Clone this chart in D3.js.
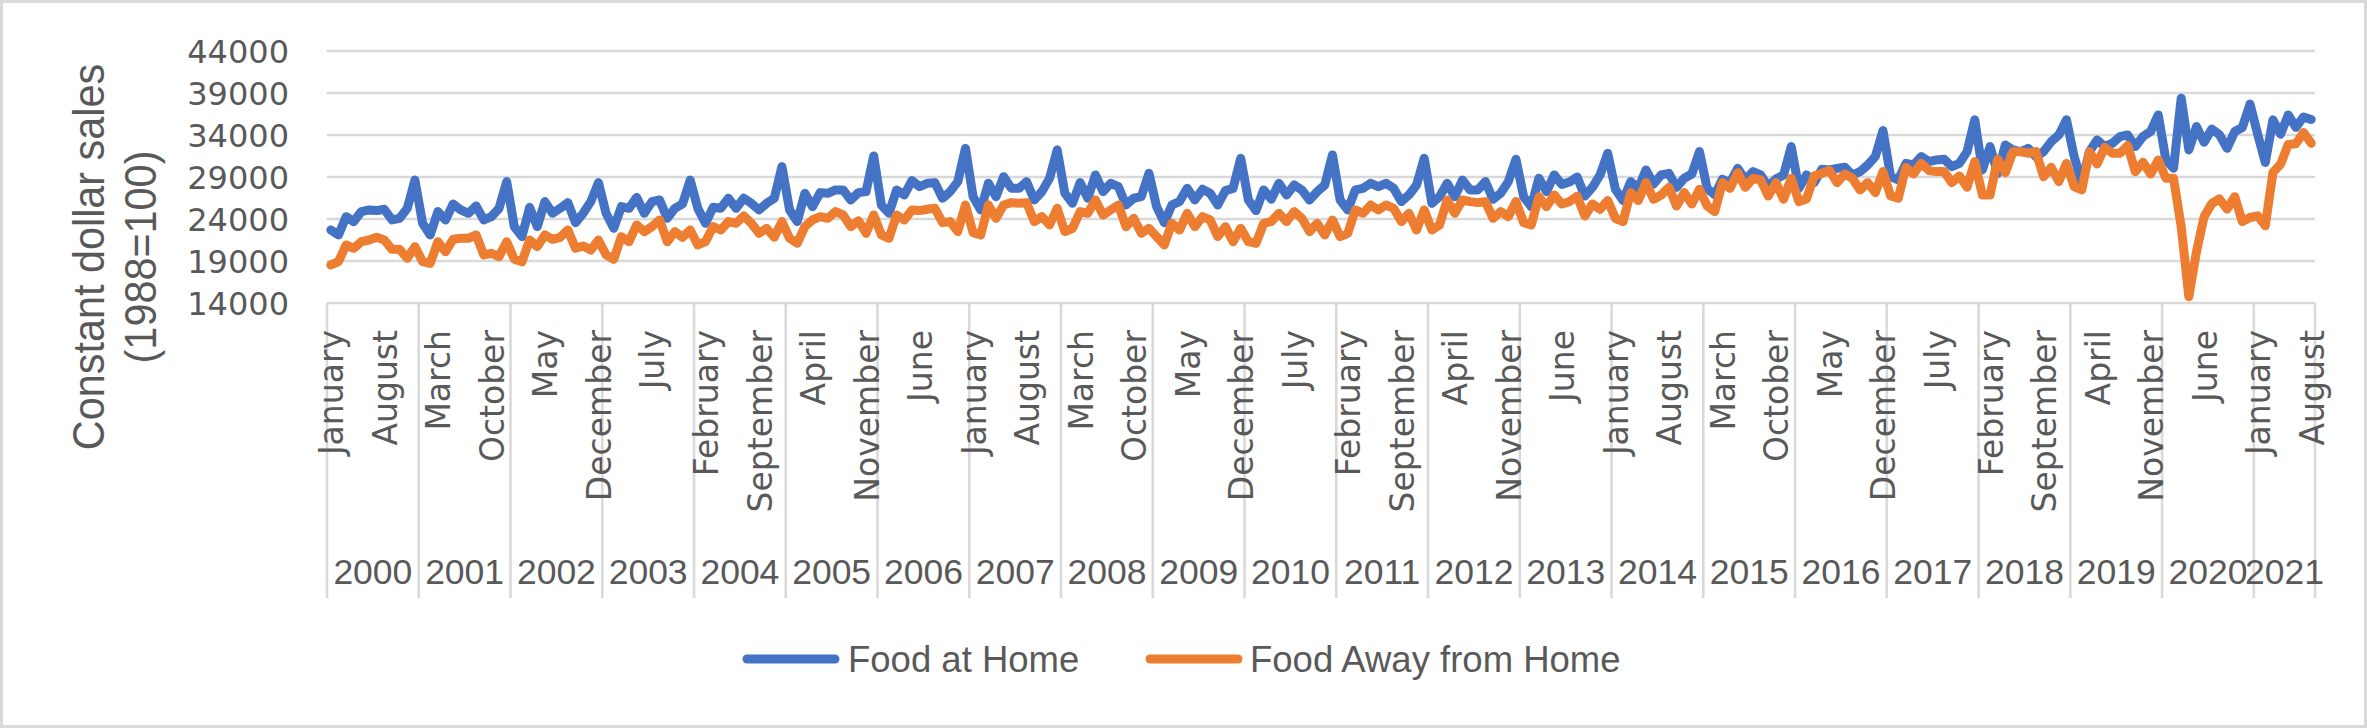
<!DOCTYPE html>
<html>
<head>
<meta charset="utf-8">
<script src="https://cdn.jsdelivr.net/npm/d3@7"></script>
<style>
  html, body { margin: 0; padding: 0; background: #ffffff; }
  svg { display: block; }
  text { fill: #595959; }
</style>
</head>
<body>
<svg id="chart" width="2367" height="728"></svg>
<script>
// ---------------- data ----------------
const monthNames = ["January","February","March","April","May","June","July","August","September","October","November","December"];
const yearLabels = ["2000","2001","2002","2003","2004","2005","2006","2007","2008","2009","2010","2011","2012","2013","2014","2015","2016","2017","2018","2019","2020","2021"];
const monthsInLastYear = 8;
const yTicks = [14000, 19000, 24000, 29000, 34000, 39000, 44000];
const seriesNames = ["Food at Home", "Food Away from Home"];

const foodAtHome = [
  22690,22100,24280,23690,24880,25080,25000,25160,23890,24080,25270,28640,
  23490,22100,24880,23890,25790,25080,24680,25550,23890,24280,25270,28450,
  23090,21900,25390,23090,26070,24680,25270,25950,23570,24680,26070,28330,
  24680,22890,25470,25270,26580,24680,26070,26270,24080,25270,25790,28640,
  25270,23490,25390,25270,26470,25270,26470,25870,25080,25870,26470,30240,
  25080,23690,27060,25470,27140,27060,27460,27460,26270,27140,27260,31510,
  25670,24680,27460,26860,28570,27850,28250,28330,26470,27260,28450,32420,
  26660,25080,28250,26660,29040,27650,27650,28450,26270,27260,28850,32220,
  27060,25870,28330,26470,29250,27260,28250,27850,25670,26470,26660,29440,
  25470,23570,25670,26070,27650,26270,27540,27060,25670,27380,27650,31230,
  26270,25000,27460,26350,28250,26860,28050,27460,26270,27260,28050,31630,
  26270,25080,27460,27650,28250,27850,28250,27650,26070,26860,28050,31230,
  25870,26660,28250,26660,28640,27460,27460,28450,26350,27060,28450,31110,
  26660,25470,28850,27260,29250,28100,28400,29000,26740,27770,29250,31820,
  27540,26190,28450,27650,29840,28170,29250,29440,27770,28850,29360,32020,
  27650,26860,28730,28330,30030,28650,29640,29250,27850,28770,29250,32620,
  27650,29250,28330,29920,29840,30030,30160,29250,29640,30430,31430,34520,
  29040,28650,30630,30430,31430,30830,31030,31110,30240,30630,32020,35800,
  29840,32620,29440,32820,32220,32020,32420,31430,32020,33210,34010,35800,
  31430,28300,32020,33410,32620,33020,33810,34010,32620,33810,34410,36390,
  31030,30040,38380,32220,35000,33130,34700,34050,32420,34410,34900,37680,
  34100,30730,35800,34100,36390,34900,36150,35840
];

const foodAway = [
  18530,18920,20910,20510,21300,21500,21820,21500,20390,20390,19320,20710,
  18920,18720,21300,20110,21580,21700,21700,22100,19720,19920,19520,21300,
  19200,18920,21500,20710,22100,21580,21820,22690,20510,20790,20310,21500,
  19720,19200,21900,21300,23290,22500,23090,23890,21300,22500,21820,22690,
  20910,21300,23090,22690,23690,23490,24360,23490,22300,22890,21820,23690,
  21700,21100,23090,23890,24280,24080,24880,24480,23090,23800,22300,24480,
  22100,21700,24480,23890,25080,25000,25160,25270,23570,23690,22500,25670,
  22380,22100,25670,24080,25670,25950,25870,25950,23690,24280,23290,25270,
  22500,22890,24880,24680,26270,24480,25080,25670,23090,24080,22300,22890,
  21900,20910,23490,22690,24680,23090,24280,23890,21900,23090,21300,22890,
  21300,21100,23490,23690,24680,23690,24880,24080,22500,23490,22100,23890,
  21900,22300,25080,24680,25670,25080,25670,25270,23690,24680,22690,25080,
  22690,23290,26270,24680,26270,26070,25950,26070,24080,24880,24280,26070,
  23570,23290,26660,25470,26860,25790,26070,26720,24360,25790,25160,26190,
  24080,23690,27140,26190,28330,26350,26860,27770,25550,27140,25790,27540,
  25550,24880,28330,27650,29520,27770,28850,28650,26740,28330,26350,28850,
  26070,26390,29120,29440,29760,28330,29360,28850,27460,28330,27140,29640,
  26740,26470,30160,29360,30630,29760,29640,29640,28330,29120,27770,30830,
  26860,26860,31110,29520,32020,32020,31830,32020,29040,30160,28450,30630,
  27850,27460,32020,30550,32540,31830,31830,32740,29640,30750,29360,31030,
  28850,28850,23090,14750,20110,24280,25830,26400,25180,26660,23690,24180,
  24380,23190,29540,30530,32870,32950,34300,33020
];

// categories (month, year) built from the label arrays
const categories = [];
yearLabels.forEach((y, yi) => {
  const n = yi === yearLabels.length - 1 ? monthsInLastYear : 12;
  for (let m = 0; m < n; m++) categories.push({ month: monthNames[m], year: y });
});

// ---------------- layout ----------------
const W = 2367, H = 728;
const plot = { left: 327, right: 2315, top: 51, bottom: 303 };
const axisBottom = 598;
const gridColor = "#d9d9d9";
const colors = ["#4472C4", "#ED7D31"];
const wideFont = "'DejaVu Sans', Verdana, sans-serif";
const narrowFont = "'Liberation Sans', Arial, sans-serif";

const svg = d3.select("#chart");

// outer border
svg.append("rect")
  .attr("x", 1.5).attr("y", 1.5)
  .attr("width", W - 3).attr("height", H - 3)
  .attr("fill", "#ffffff").attr("stroke", gridColor).attr("stroke-width", 3);

const x = d3.scaleBand()
  .domain(d3.range(categories.length))
  .range([plot.left, plot.right])
  .paddingInner(0).paddingOuter(0);
const cx = i => x(i) + x.bandwidth() / 2;

const y = d3.scaleLinear()
  .domain([14000, 44000])
  .range([plot.bottom, plot.top]);

// gridlines
svg.append("g").selectAll("line")
  .data(yTicks)
  .join("line")
  .attr("x1", plot.left).attr("x2", plot.right)
  .attr("y1", d => y(d)).attr("y2", d => y(d))
  .attr("stroke", gridColor).attr("stroke-width", 2.6);

// y tick labels (via d3 axis)
const yAxis = d3.axisLeft(y).tickValues(yTicks).tickSize(0).tickPadding(0).tickFormat(d3.format("d"));
const yg = svg.append("g").attr("transform", `translate(289,0)`).call(yAxis);
yg.select(".domain").remove();
yg.selectAll("text")
  .style("font-family", wideFont)
  .style("font-size", "32px")
  .style("fill", "#595959")
  .attr("dy", "0.36em");

// year separators (category boundaries)
const boundaries = [];
categories.forEach((c, i) => { if (i === 0 || c.year !== categories[i - 1].year) boundaries.push(i); });
const sepX = boundaries.map(i => x(i)).concat([plot.right]);
svg.append("g").selectAll("line")
  .data(sepX)
  .join("line")
  .attr("x1", d => d).attr("x2", d => d)
  .attr("y1", plot.bottom).attr("y2", axisBottom)
  .attr("stroke", gridColor).attr("stroke-width", 2.6);

// month labels every 7th category
const monthIdx = d3.range(0, categories.length, 7);
svg.append("g").selectAll("text")
  .data(monthIdx)
  .join("text")
  .attr("transform", i => `translate(${cx(i) + 1},330) rotate(-90)`)
  .attr("text-anchor", "end")
  .attr("dominant-baseline", "central")
  .style("font-family", wideFont)
  .style("font-size", "33px")
  .text(i => categories[i].month);

// year labels
svg.append("g").selectAll("text")
  .data(boundaries)
  .join("text")
  .attr("x", (b, k) => (x(b) + sepX[k + 1]) / 2)
  .attr("y", 584)
  .attr("text-anchor", "middle")
  .style("font-family", narrowFont)
  .style("font-size", "35.5px")
  .text(b => categories[b].year);

// y axis title
const title = svg.append("g");
title.append("text")
  .attr("transform", "translate(104,257) rotate(-90) scale(0.92,1)")
  .attr("text-anchor", "middle")
  .style("font-family", narrowFont)
  .style("font-size", "45px")
  .text("Constant dollar sales");
title.append("text")
  .attr("transform", "translate(156,257) rotate(-90) scale(0.92,1)")
  .attr("text-anchor", "middle")
  .style("font-family", narrowFont)
  .style("font-size", "45px")
  .text("(1988=100)");

// lines
const line = d3.line().x((d, i) => cx(i)).y(d => y(d));
[foodAtHome, foodAway].forEach((s, k) => {
  svg.append("path")
    .datum(s)
    .attr("d", line)
    .attr("fill", "none")
    .attr("stroke", colors[k])
    .attr("stroke-width", 9)
    .attr("stroke-linejoin", "round")
    .attr("stroke-linecap", "round");
});

// legend
const legendItems = [{ x: 747, tx: 848 }, { x: 1150, tx: 1250 }];
const lg = svg.append("g");
seriesNames.forEach((name, k) => {
  lg.append("line")
    .attr("x1", legendItems[k].x).attr("x2", legendItems[k].x + 88)
    .attr("y1", 659).attr("y2", 659)
    .attr("stroke", colors[k]).attr("stroke-width", 9).attr("stroke-linecap", "round");
  lg.append("text")
    .attr("x", legendItems[k].tx).attr("y", 672)
    .style("font-family", narrowFont)
    .style("font-size", "36.5px")
    .text(name);
});
</script>
</body>
</html>
